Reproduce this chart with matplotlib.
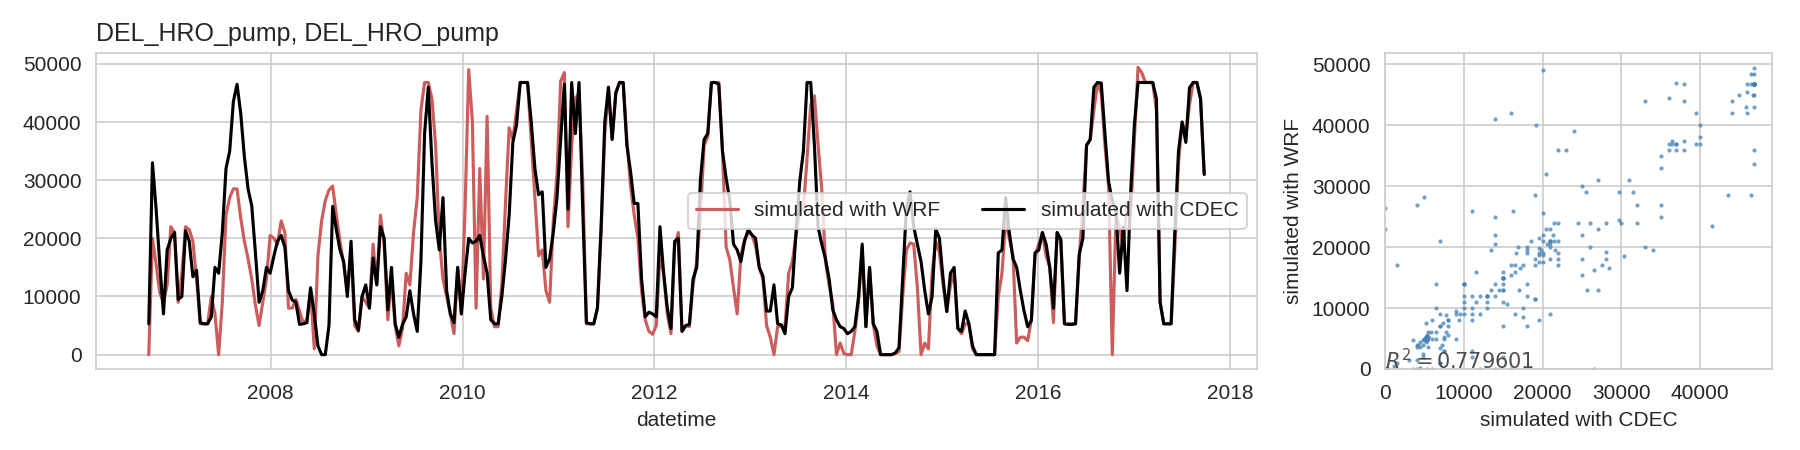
import numpy as np
import matplotlib
matplotlib.use('Agg')
import matplotlib.pyplot as plt
import seaborn as sns

# fortnightly samples, values in thousands
start_date = '2006-09-24'
step_days = 14

cdec_k = [
    5.3, 33, 25, 15.5, 7, 18, 20, 21, 9.5, 10, 21.3, 19.5, 13.4, 14.5, 5.5,
    5.3, 5.3, 6.5, 15, 14, 21, 32, 35, 43.5, 46.5, 41.5, 34, 28.5, 25.6, 17.5,
    9, 11, 15, 14, 16.9, 19.5, 20.5, 18.5, 11, 9.4, 9, 5.2,
    5.3, 5.5, 11.5, 7, 1.5, 0, 0, 5, 25.5, 21.5, 18, 16, 10, 19.5, 6, 4.2,
    10, 12, 8, 16.6, 12, 22, 20, 7.7, 15, 5.3, 3, 5.2, 6.5, 11, 7, 4, 16, 38,
    46, 33, 23, 18, 27, 11, 7, 5.5, 15, 7, 14, 20, 19.2, 19.5, 20.5, 17, 14, 6,
    5.3, 5.3, 10, 16.3, 24, 36.5, 39.5, 46.8, 46.8, 46.8, 40, 32, 27.5, 28, 15,
    16.5, 21, 27, 37, 46.5, 25, 46.8, 38, 46.8, 25, 5.5, 5.3, 5.3, 8, 22, 40,
    46, 37, 45, 46.8, 46.8, 36, 31.5, 26, 26, 13, 6.5, 7.3, 7, 6.5, 22, 14, 8,
    4.5, 19.5, 20,
    4, 5, 5.2, 13, 15, 30, 37, 38, 46.8, 46.8, 46.5, 35, 30.3, 26.5, 19, 18, 16,
    19.5, 21.5, 20.6, 20, 15, 13.5, 7.5, 7.5, 12, 5.3, 5.1, 3.6, 10, 11.5, 21,
    29.7, 35, 46.8, 46.8, 36, 22, 19, 16.5, 13, 7.7, 6, 4.8, 4.5, 3.6, 4, 4.8,
    10, 19, 4.8, 15,
    5.3, 4, 0, 0, 0, 0, 0.3, 1.2, 13, 25, 28, 22, 19, 16, 11, 7, 10, 21.6, 20,
    13, 7.4, 14, 15, 4.5, 4, 7.5, 5.3, 1.5, 0, 0, 0, 0, 0, 0, 17.5, 18, 27, 21,
    16.5, 15, 11, 7.5, 4.8, 5.9, 17.5, 18, 21, 19, 15, 8, 21,
    19.8, 5.3, 5.2, 5.2, 5.3, 17.2, 20, 36, 37, 46, 46.8, 46.7, 38, 29.7, 26.5,
    24.5, 14, 22, 11, 28, 39.5, 46.8, 46.8, 46.8, 46.8, 46.8, 44, 9, 5.3, 5.3,
    5.3, 21, 35, 40, 36.5, 45.9, 46.8, 46.8, 44, 31,
]

wrf_k = [
    0, 20, 15.5, 10.6, 9, 12, 22, 21, 9, 14, 22, 21.5, 19.5, 12.9, 5.3, 5.3,
    5.3, 10, 7, 0, 9, 24, 27, 28.5, 28.5, 23.5, 19.5, 16.5, 13, 8.5, 5, 9, 13,
    20.5, 20, 19, 23, 21, 8, 8, 9.5, 7.5,
    5.5, 6, 11, 1, 17, 23, 26.5, 28.3, 29, 24, 19.5, 15.5, 11, 17.5, 5, 4, 10,
    9, 8, 19, 12, 24, 19, 6, 13, 5, 1.5, 4.5, 14, 12, 21, 27, 42, 46.8, 46.8,
    44, 36, 20, 13, 10, 7, 3.6, 15, 7, 25, 49, 40, 8, 32, 13, 41, 8,
    4.8, 4.8, 12, 26, 39, 37, 42, 46.8, 46.8, 46.8, 37, 27, 17, 18, 11, 9, 23,
    31, 47, 48.5, 22, 36, 44, 45, 30, 5.3, 5.3, 5.3, 8, 21, 38, 45.5, 37, 45,
    46.8, 46.8, 37, 29, 24, 20, 11, 6, 4, 3.5, 5, 17, 14, 7, 3.6, 18.7, 21,
    4, 5, 4.8, 12, 16, 24, 36, 37.5, 46.8, 46.8, 46.8, 35, 18.5, 16.3, 11.5, 7,
    17, 19.8, 21, 20.6, 18.7, 15, 13, 5, 3, 0, 4.8, 5, 4.8, 14, 16, 20.5, 24.5,
    25, 33.7, 43, 44.5, 36, 28.5, 16, 12, 8.8, 0, 2, 0.2, 0, 0, 4, 9, 18, 4.8,
    15,
    5.3, 1.5, 0, 0, 0, 0, 0.2, 0.5, 10, 18, 19.2, 19, 11.5, 0, 2, 1, 14, 19.5,
    17.5, 12, 7.5, 12, 14, 4.5, 3.6, 5.3, 5.3, 1, 0, 0, 0, 0, 0, 0, 10, 14, 23,
    20, 17, 2, 3, 3, 2.4, 6, 17, 19, 21, 17, 15, 5.5, 21,
    19.5, 5.3, 5.3, 5.3, 5.3, 16.5, 25.6, 36, 37, 42, 46.8, 45, 36, 29, 0, 24,
    22, 18, 26, 24, 37, 49.4, 48.5, 46.8, 46.8, 46.8, 42, 9, 5.3, 5.3, 5.3, 18,
    33, 40, 37.5, 43, 46.8, 46.8, 44, 31,
]

r_squared = 0.779601
title = 'DEL_HRO_pump, DEL_HRO_pump'
wrf_label = 'simulated with WRF'
cdec_label = 'simulated with CDEC'

cdec = np.array(cdec_k) * 1000.
wrf = np.array(wrf_k) * 1000.
dates = np.datetime64(start_date) + np.arange(len(cdec)) * np.timedelta64(step_days, 'D')

sns.set_style('whitegrid')
plt.rcParams['font.family'] = ['Liberation Sans', 'DejaVu Sans']

fig = plt.figure(figsize=(12, 3), dpi=150)
W, H = 1800., 450.
ax = fig.add_axes([96 / W, 1 - 369 / H, (1257 - 96) / W, (369 - 53) / H])
ax2 = fig.add_axes([1385 / W, 1 - 369 / H, (1772 - 1385) / W, (369 - 53) / H])

# time series
ax.plot(dates, wrf, color='indianred', lw=1.5, label=wrf_label)
ax.plot(dates, cdec, color='k', lw=1.5, label=cdec_label)
ax.set_title(title, loc='left', fontsize=12)
ax.set_xlabel('datetime')
ax.legend(loc='center right', ncol=2)

# scatter of the two runs
ax2.scatter(cdec, wrf, s=4, color='steelblue', alpha=0.75, linewidths=0)
ax2.set_xlim(left=0)
ax2.set_ylim(bottom=0)
ax2.set_xlabel(cdec_label)
ax2.set_ylabel(wrf_label)
ax2.text(0, 0, '$R^2 = %s$' % r_squared, fontsize=10, color='0.3')

fig.savefig('out.png', dpi=150)
